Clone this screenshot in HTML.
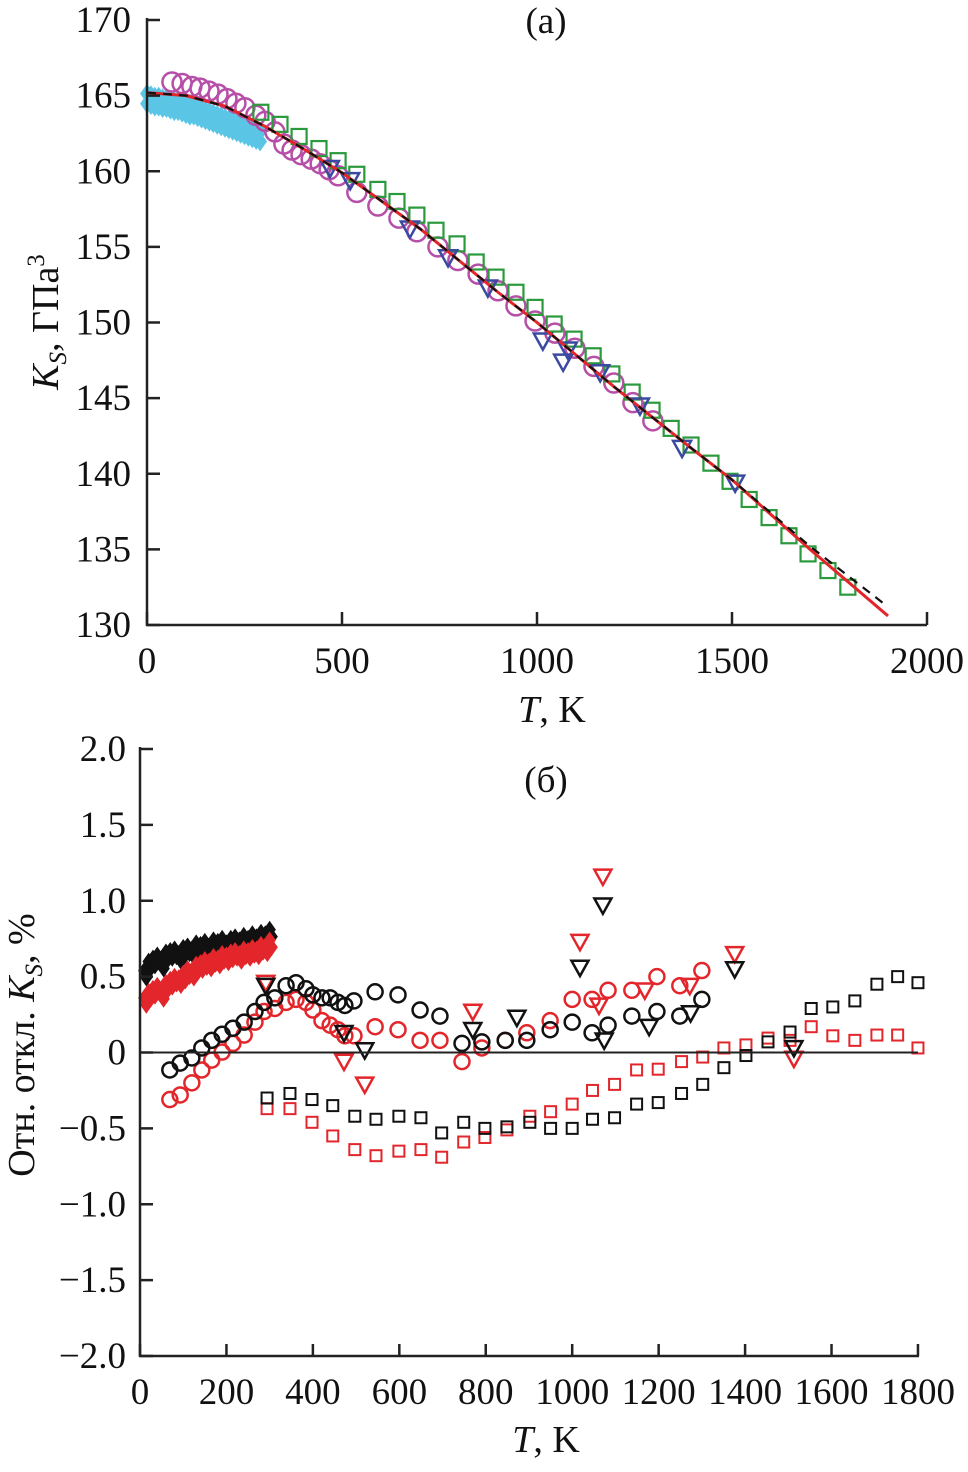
<!DOCTYPE html>
<html><head><meta charset="utf-8"><style>
body{margin:0;background:#fff}
svg text{font-family:"Liberation Serif",serif;fill:#111}
</style></head><body>
<svg id="chart" width="968" height="1467" viewBox="0 0 968 1467" xmlns="http://www.w3.org/2000/svg">
<g id="top"></g>
<g id="bot"></g>
</svg>
<script>
// ---- Panel (a) data ----
const lineT=[0,100,200,300,400,500,700,900,1000,1200,1400,1500,1700,1900];
const lineRed=[165.2,165.0,164.3,163.0,161.5,159.9,156.2,152.0,150.0,145.7,141.6,139.6,135.0,130.6];
const lineDash=[165.2,165.0,164.3,163.0,161.5,159.9,156.2,152.0,150.0,145.7,141.6,139.6,135.2,131.2];
const magT=[64,90,115,136,159,182,205,228,251,279,303,328,351,372,395,421,444,467,490,538,592,646,692,746,797,849,900,946,995,1046,1097,1146,1197,1246,1297];
const magK=[165.9,165.8,165.6,165.5,165.3,165.1,164.8,164.5,164.2,163.7,163.3,162.6,161.8,161.4,161.1,160.8,160.5,160.1,159.7,158.6,157.7,156.9,156.0,155.0,154.1,153.2,152.1,151.1,150.1,149.3,148.3,147.1,146.0,144.7,143.5];
const grnT=[292,341,390,441,490,538,592,641,692,741,795,844,895,946,995,1044,1095,1144,1192,1244,1295,1344,1395,1446,1495,1544,1595,1646,1695,1746,1797];
const grnK=[163.9,163.1,162.3,161.5,160.7,159.8,158.8,158.0,157.1,156.1,155.2,154.0,153.0,152.0,151.0,149.9,148.9,147.8,146.6,145.4,144.2,143.0,141.9,140.7,139.5,138.3,137.1,135.9,134.7,133.6,132.5];
const bluT=[469,521,674,772,874,1015,1067,1079,1162,1264,1372,1508];
const bluK=[160.2,159.4,156.2,154.3,152.3,148.8,147.4,148.2,146.7,144.5,141.7,139.4];
const cyT=[0,10,20,30,40,50,60,70,80,90,100,110,120,130,140,150,160,170,180,190,200,210,220,230,240,250,260,270,280,290];
const cyK=[164.8,164.7,164.6,164.6,164.5,164.5,164.4,164.3,164.3,164.2,164.1,164.0,164.0,163.9,163.8,163.7,163.6,163.5,163.4,163.3,163.2,163.1,163.0,162.9,162.8,162.7,162.6,162.5,162.4,162.3];
const aXTicks=[0,500,1000,1500,2000];
const aYTicks=[130,135,140,145,150,155,160,165,170];
// ---- Panel (b) data ----
const bDiaT=[10,20,30,40,50,60,70,80,90,100,110,120,130,140,150,160,170,180,190,200,210,220,230,240,250,260,270,280,290,300];
const bDiaBlack=[0.52,0.58,0.60,0.62,0.58,0.64,0.65,0.66,0.63,0.67,0.68,0.66,0.70,0.69,0.71,0.68,0.72,0.71,0.73,0.70,0.73,0.74,0.72,0.75,0.73,0.76,0.74,0.77,0.76,0.79];
const bDiaRed=[0.34,0.38,0.40,0.42,0.38,0.44,0.46,0.48,0.47,0.50,0.53,0.52,0.56,0.57,0.59,0.58,0.61,0.60,0.63,0.62,0.64,0.65,0.63,0.66,0.65,0.67,0.66,0.69,0.68,0.72];
const bCirT=[69,93,120,143,166,190,215,241,266,287,312,338,361,384,400,421,440,458,474,495,544,597,648,694,745,791,845,895,949,1000,1046,1083,1138,1196,1249,1300];
const bCirBlack=[-0.115,-0.07,-0.036,0.03,0.08,0.12,0.16,0.2,0.27,0.33,0.36,0.44,0.46,0.42,0.38,0.36,0.36,0.33,0.31,0.34,0.40,0.38,0.28,0.24,0.06,0.07,0.08,0.08,0.15,0.2,0.13,0.18,0.24,0.27,0.24,0.35];
const bCirRed=[-0.31,-0.28,-0.2,-0.115,-0.05,0.003,0.06,0.115,0.2,0.27,0.29,0.33,0.35,0.33,0.28,0.21,0.18,0.15,0.11,0.11,0.17,0.15,0.08,0.08,-0.06,0.03,0.08,0.13,0.21,0.35,0.35,0.41,0.41,0.5,0.44,0.54];
const bSqT=[294,347,398,446,497,546,599,650,698,749,798,849,902,950,1000,1047,1098,1149,1199,1253,1302,1351,1402,1453,1504,1553,1603,1654,1705,1753,1800];
const bSqBlack=[-0.30,-0.27,-0.31,-0.35,-0.42,-0.44,-0.42,-0.43,-0.53,-0.46,-0.50,-0.49,-0.46,-0.50,-0.50,-0.44,-0.43,-0.34,-0.33,-0.27,-0.21,-0.10,-0.02,0.07,0.135,0.29,0.30,0.34,0.45,0.50,0.46];
const bSqRed=[-0.37,-0.37,-0.46,-0.55,-0.64,-0.68,-0.65,-0.64,-0.69,-0.59,-0.56,-0.51,-0.42,-0.39,-0.34,-0.25,-0.21,-0.115,-0.11,-0.06,-0.03,0.03,0.05,0.095,0.08,0.17,0.11,0.08,0.115,0.115,0.03];
const bTriBlackT=[291,472,520,770,872,1018,1071,1074,1178,1274,1376,1513];
const bTriBlack=[0.44,0.13,0.016,0.15,0.23,0.56,0.97,0.08,0.17,0.26,0.55,0.03];
const bTriRedT=[291,472,520,770,1018,1071,1062,1168,1272,1376,1513];
const bTriRed=[0.46,-0.06,-0.21,0.27,0.73,1.16,0.31,0.41,0.44,0.65,-0.04];
const bXTicks=[0,200,400,600,800,1000,1200,1400,1600,1800];
const bYTicks=[-2,-1.5,-1,-0.5,0,0.5,1,1.5,2];
const bYLabels=["\u22122.0","\u22121.5","\u22121.0","\u22120.5","0","0.5","1.0","1.5","2.0"];

const NS="http://www.w3.org/2000/svg";
function mk(parent,tag,attrs,text){const e=document.createElementNS(NS,tag);for(const k in attrs)e.setAttribute(k,attrs[k]);if(text!==undefined)e.textContent=text;parent.appendChild(e);return e;}
const ax=T=>147+T*0.39, ay=K=>20+(170-K)*15.125;
const bx=T=>140+T*0.4322, by=v=>1052.5-v*151.75;

function circle(g,x,y,r,c,w,name){const e=mk(g,'circle',{cx:x,cy:y,r:r,fill:'none',stroke:c,'stroke-width':w});

}
function square(g,x,y,s,c,w,name){const e=mk(g,'rect',{x:x-s,y:y-s,width:2*s,height:2*s,fill:'none',stroke:c,'stroke-width':w});

}
function tri(g,x,y,s,c,w,name){const e=mk(g,'polygon',{points:`${x-s},${y-s*0.8} ${x+s},${y-s*0.8} ${x},${y+s}`,fill:'none',stroke:c,'stroke-width':w});

}
function dia(g,x,y,s,c,name){const e=mk(g,'polygon',{points:`${x},${y-s} ${x+s*0.7},${y} ${x},${y+s} ${x-s*0.7},${y}`,fill:c,stroke:c,'stroke-width':1});

}

const FS=37;
// ---- Panel a ----
const A=document.getElementById('top');
cyT.forEach((t,i)=>{dia(A,ax(t),ay(cyK[i])-5,9,'#5bc5e6','cyan-diamond');dia(A,ax(t),ay(cyK[i])+5,9,'#5bc5e6','cyan-diamond');});
magT.forEach((t,i)=>circle(A,ax(t),ay(magK[i]),9.5,'#b64fa8',2.5,'magenta-circle'));
grnT.forEach((t,i)=>square(A,ax(t),ay(grnK[i]),7.5,'#2a9a3c',2.2,'green-square'));
bluT.forEach((t,i)=>tri(A,ax(t),ay(bluK[i]),9,'#3a4aa0',2.5,'blue-triangle'));
let pr=lineT.map((t,i)=>`${ax(t)},${ay(lineRed[i])}`).join(' ');
let l1=mk(A,'polyline',{points:pr,fill:'none',stroke:'#e3262b','stroke-width':3});


let pd=lineT.map((t,i)=>`${ax(t)},${ay(lineDash[i])}`).join(' ');
let l2=mk(A,'polyline',{points:pd,fill:'none',stroke:'#111','stroke-width':2.2,'stroke-dasharray':'9,7'});


mk(A,'line',{x1:147,y1:18,x2:147,y2:626,stroke:'#222','stroke-width':2.5});
mk(A,'line',{x1:146,y1:625,x2:927,y2:625,stroke:'#222','stroke-width':2.5});
aYTicks.forEach(v=>{mk(A,'line',{x1:147,y1:ay(v),x2:160,y2:ay(v),stroke:'#222','stroke-width':2.5});
const t=mk(A,'text',{x:131,y:ay(v)+12,'font-size':FS,'text-anchor':'end'},v);

});
aXTicks.forEach(v=>{mk(A,'line',{x1:ax(v),y1:625,x2:ax(v),y2:612,stroke:'#222','stroke-width':2.5});
const t=mk(A,'text',{x:ax(v),y:673,'font-size':FS,'text-anchor':'middle'},v);

});
let ta=mk(A,'text',{x:546,y:33,'font-size':FS,'text-anchor':'middle'},'(a)');


let xa=mk(A,'text',{x:552,y:722,'font-size':38,'text-anchor':'middle'});


xa.innerHTML='<tspan font-style="italic">T</tspan>, K';
let ya=mk(A,'text',{transform:'translate(58,322) rotate(-90)','font-size':38,'text-anchor':'middle'});


ya.innerHTML='<tspan font-style="italic">K</tspan><tspan font-style="italic" font-size="25" dy="8">S</tspan><tspan dy="-8">, ГПа</tspan><tspan font-size="25" dy="-14">3</tspan>';

// ---- Panel b ----
const B=document.getElementById('bot');
bDiaT.forEach((t,i)=>{dia(B,bx(t),by(bDiaBlack[i])-3,8,'#111','black-diamond');dia(B,bx(t)+2,by(bDiaBlack[i])+4,8,'#111','black-diamond');});
bDiaT.forEach((t,i)=>{dia(B,bx(t),by(bDiaRed[i])-3,8,'#e3262b','red-diamond');dia(B,bx(t)+2,by(bDiaRed[i])+4,8,'#e3262b','red-diamond');});
bCirT.forEach((t,i)=>circle(B,bx(t),by(bCirRed[i]),7.5,'#e3262b',2.5,'red-circle'));
bCirT.forEach((t,i)=>circle(B,bx(t),by(bCirBlack[i]),7.5,'#111',2.5,'black-circle'));
bSqT.forEach((t,i)=>square(B,bx(t),by(bSqRed[i]),5.5,'#e3262b',2,'red-square'));
bSqT.forEach((t,i)=>square(B,bx(t),by(bSqBlack[i]),5.5,'#111',2,'black-square'));
bTriRedT.forEach((t,i)=>tri(B,bx(t),by(bTriRed[i]),8.5,'#e3262b',2.5,'red-triangle'));
bTriBlackT.forEach((t,i)=>tri(B,bx(t),by(bTriBlack[i]),8.5,'#111',2.5,'black-triangle'));
let z=mk(B,'line',{x1:140,y1:by(0),x2:918,y2:by(0),stroke:'#222','stroke-width':2});


mk(B,'line',{x1:140,y1:747,x2:140,y2:1357,stroke:'#222','stroke-width':2.5});
mk(B,'line',{x1:139,y1:1356,x2:919,y2:1356,stroke:'#222','stroke-width':2.5});
bYTicks.forEach((v,i)=>{mk(B,'line',{x1:140,y1:by(v),x2:153,y2:by(v),stroke:'#222','stroke-width':2.5});
const t=mk(B,'text',{x:126,y:by(v)+12,'font-size':FS,'text-anchor':'end'},bYLabels[i]);

});
bXTicks.forEach(v=>{mk(B,'line',{x1:bx(v),y1:1356,x2:bx(v),y2:1344,stroke:'#222','stroke-width':2.5});
const t=mk(B,'text',{x:bx(v),y:1404,'font-size':FS,'text-anchor':'middle'},v);

});
let tb=mk(B,'text',{x:546,y:792,'font-size':FS,'text-anchor':'middle'},'(б)');


let xb=mk(B,'text',{x:546,y:1452,'font-size':38,'text-anchor':'middle'});


xb.innerHTML='<tspan font-style="italic">T</tspan>, K';
let yb=mk(B,'text',{transform:'translate(34,1045) rotate(-90)','font-size':38,'text-anchor':'middle'});


yb.innerHTML='Отн. откл. <tspan font-style="italic">K</tspan><tspan font-style="italic" font-size="25" dy="8">S</tspan><tspan dy="-8">, %</tspan>';
</script>
</body></html>
